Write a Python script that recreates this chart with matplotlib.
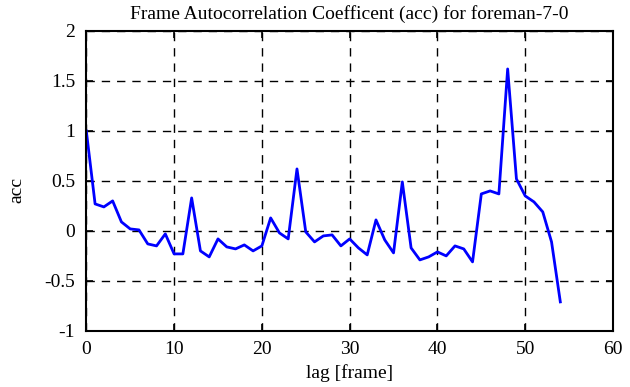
import matplotlib
matplotlib.use("Agg")
import matplotlib.pyplot as plt
import numpy as np

# acc values, lag 0..54
lag = np.arange(0, 55)
acc = [1.00, 0.27, 0.24, 0.30, 0.09, 0.02, 0.01, -0.13, -0.15, -0.03,
       -0.23, -0.23, 0.33, -0.20, -0.26, -0.08, -0.16, -0.18, -0.14, -0.20,
       -0.15, 0.13, -0.02, -0.08, 0.62, -0.01, -0.11, -0.05, -0.04, -0.15,
       -0.08, -0.17, -0.24, 0.11, -0.09, -0.22, 0.49, -0.17, -0.29, -0.26,
       -0.21, -0.25, -0.15, -0.18, -0.31, 0.37, 0.40, 0.37, 1.62, 0.52,
       0.35, 0.29, 0.19, -0.11, -0.71]

plt.rcParams['font.family'] = ['Liberation Serif', 'DejaVu Serif']
plt.rcParams['font.size'] = 14

fig = plt.figure(figsize=(6.3, 3.87), dpi=100)
ax = fig.add_axes([0.137, 0.145, 0.836, 0.775])
ax.plot(lag, acc, color='#0000ff', lw=2)
ax.set_xlim(0, 60)
ax.set_ylim(-1, 2)
ax.set_xticks(np.arange(0, 61, 10))
ax.set_yticks([-1, -0.5, 0, 0.5, 1, 1.5, 2])
ax.set_yticklabels(['-1', '-0.5', '0', '0.5', '1', '1.5', '2'])
ax.grid(True, color='k', linestyle=(0, (6, 5)), lw=1)
ax.tick_params(direction='in', top=True, right=True, length=5, width=1.2)
ax.tick_params(axis='x', pad=7)
ax.tick_params(axis='y', pad=8)
for s in ax.spines.values():
    s.set_linewidth(1.5)
ax.set_title('Frame Autocorrelation Coefficent (acc) for foreman-7-0', fontsize=14, pad=9)
ax.set_xlabel('lag [frame]')
ax.set_ylabel('acc')
ax.xaxis.set_label_coords(0.5, -0.11)
ax.yaxis.set_label_coords(-0.115, 0.47)

fig.savefig('out.png', dpi=100)
